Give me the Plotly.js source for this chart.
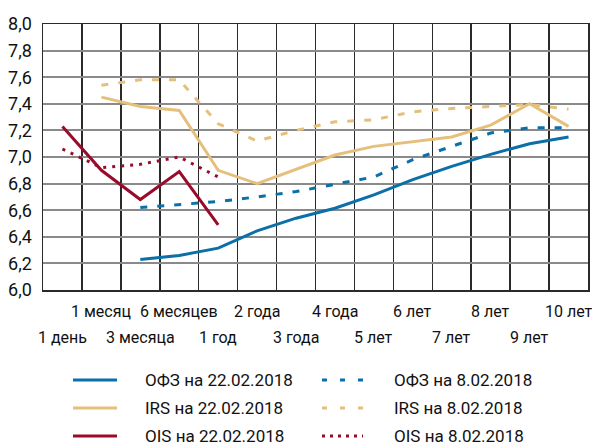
<!DOCTYPE html>
<html><head><meta charset="utf-8">
<script src="https://cdn.plot.ly/plotly-3.0.1.min.js"></script>
<style>html,body{margin:0;padding:0;background:#fff}#chart{width:592px;height:447px}</style>
</head><body><div id="chart"></div>
<script>
const categories = ["1 день","1 месяц","3 месяца","6 месяцев","1 год","2 года","3 года","4 года","5 лет","6 лет","7 лет","8 лет","9 лет","10 лет"];
const ofz22 = [null,null,6.23,6.26,6.315,6.445,6.54,6.615,6.715,6.83,6.93,7.02,7.10,7.15];
const ofz08 = [null,null,6.62,6.64,6.665,6.70,6.74,6.795,6.85,6.98,7.08,7.18,7.22,7.22];
const irs22 = [null,7.45,7.38,7.35,6.90,6.80,6.91,7.015,7.08,7.115,7.15,7.24,7.40,7.23];
const irs08 = [null,7.54,7.58,7.58,7.25,7.12,7.20,7.265,7.28,7.34,7.365,7.38,7.395,7.36];
const ois22 = [7.23,6.90,6.68,6.89,6.49,null,null,null,null,null,null,null,null,null];
const ois08 = [7.06,6.92,6.945,7.00,6.85,null,null,null,null,null,null,null,null,null];
const seriesNames = ["ОФЗ на 22.02.2018","IRS на 22.02.2018","OIS на 22.02.2018","ОФЗ на 8.02.2018","IRS на 8.02.2018","OIS на 8.02.2018"];
const yTicks = [6.0,6.2,6.4,6.6,6.8,7.0,7.2,7.4,7.6,7.8,8.0];

const BLUE="#0b6fa8", GOLD="#e5c07c", RED="#9a0b2b";
const FONT="Roboto, Liberation Sans, sans-serif";
const styles = [
  {color:BLUE,dash:"solid"},{color:GOLD,dash:"solid"},{color:RED,dash:"solid"},
  {color:BLUE,dash:"7px,10px"},{color:GOLD,dash:"7px,10px"},{color:RED,dash:"3px,6px"}
];
const seriesData=[ofz22,irs22,ois22,ofz08,irs08,ois08];
const order=[3,4,5,1,0,2];
const traces = order.map(i=>({
  type:"scatter",mode:"lines",x:categories,y:seriesData[i],name:seriesNames[i],
  line:{color:styles[i].color,width:3,dash:styles[i].dash},connectgaps:false,
  showlegend:false,hoverinfo:"skip"
}));

const annotations = categories.map((c,i)=>({
  x:c,xref:"x",yref:"paper",y:(i%2===1)?-0.079:-0.177,yanchor:"middle",xanchor:"center",
  text:c,showarrow:false,font:{family:FONT,size:16,color:"#111"}
}));
const shapes=[];
const legRowsY=[380,408,436];
seriesNames.forEach((n,i)=>{
  const col=Math.floor(i/3), row=i%3;
  const x0=col===0?73:322, x1=col===0?117:363, tx=col===0?143:392;
  const yp=(290-legRowsY[row])/266;
  const xp0=(x0-43)/545, xp1=(x1-43)/545, txp=(tx-43)/545;
  shapes.push({type:"line",xref:"paper",yref:"paper",x0:xp0,x1:xp1,y0:yp,y1:yp,
    line:{color:styles[i].color,width:3,dash:i>=3?(i===5?"3px,5px":"5px,13px"):"solid"}});
  annotations.push({xref:"paper",yref:"paper",x:txp,y:yp,xanchor:"left",yanchor:"middle",
    text:n,showarrow:false,font:{family:FONT,size:17,color:"#111"}});
});

const layout={
  width:592,height:447,margin:{l:43,r:4,t:24,b:157},
  paper_bgcolor:"#fff",plot_bgcolor:"#fff",separators:", ",
  font:{family:FONT,size:17,color:"#111"},
  xaxis:{type:"category",range:[-0.5,13.5],tickson:"boundaries",showgrid:true,
    gridcolor:"#2a2a2a",gridwidth:1.5,showticklabels:false,ticks:"",
    showline:true,linecolor:"#2a2a2a",linewidth:1.5,mirror:true,zeroline:false,fixedrange:true},
  yaxis:{range:[6.0,8.0],tickvals:yTicks,tickformat:".1f",showgrid:true,gridcolor:"#8a8a8a",gridwidth:2,
    showline:true,linecolor:"#2a2a2a",linewidth:1.5,mirror:true,zeroline:false,ticks:"",
    ticklabelstandoff:6,tickfont:{family:FONT,size:18,color:"#111"},fixedrange:true},
  annotations:annotations,shapes:shapes,showlegend:false
};
Plotly.newPlot("chart",traces,layout,{displayModeBar:false,staticPlot:true});
</script></body></html>
